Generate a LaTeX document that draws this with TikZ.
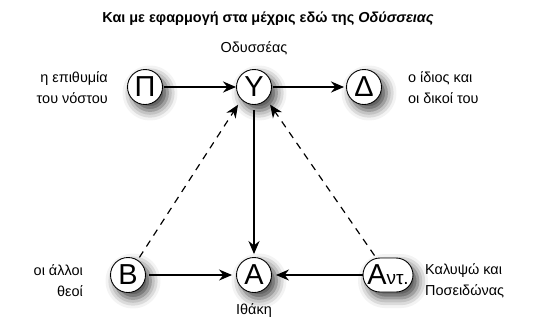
\documentclass[tikz,border=0pt]{standalone}
\usepackage{fontspec}
\setmainfont{Liberation Sans}
\usetikzlibrary{arrows.meta,shadows.blur,shapes.misc}
\begin{document}
\begin{tikzpicture}[x=1bp,y=-1bp,
  shad/.style={blur shadow={shadow xshift=5bp,shadow yshift=-6bp,shadow blur radius=10bp,shadow opacity=75}},
  ball/.style={circle,draw,line width=0.9pt,fill=white,minimum size=35bp,inner sep=0pt,
    font=\fontsize{29}{29}\selectfont,shad},
  pill/.style={rounded rectangle,draw,line width=0.9pt,fill=white,minimum width=51bp,minimum height=34bp,inner sep=0.5bp,
    font=\fontsize{29}{29}\selectfont,shad},
  lab/.style={font=\fontsize{14.5}{21}\selectfont,inner sep=0pt},
  tip/.style={-{Stealth[length=13bp,width=11bp]}},
  thickarrow/.style={tip,line width=2.1pt},
  thinarrow/.style={tip,line width=1.5pt},
  dasharrow/.style={tip,line width=1.2pt,dash pattern=on 7bp off 6bp}]
\useasboundingbox (0,0) rectangle (536,324);
\node[font=\bfseries\fontsize{14.5}{18}\selectfont] (title) at (268,19) {Και με εφαρμογή στα μέχρις εδώ της \textit{Οδύσσειας}};
\node[ball] (P) at (145,87) {Π};
\node[ball] (Y) at (254,87) {Υ};
\node[ball] (D) at (364,87) {Δ};
\node[ball] (B) at (128,275) {Β};
\node[ball] (A) at (254,275) {Α};
\node[pill] (N) at (388,275) {Α\fontsize{19}{19}\selectfont ντ.};
\node[lab] (Ylab) at (254,48) {Οδυσσέας};
\node[lab,align=right,anchor=east] (Plab) at (108,88) {η επιθυμία\\του νόστου};
\node[lab,align=left,anchor=west] (Dlab) at (408,88) {ο ίδιος και\\οι δικοί του};
\node[lab,align=right,anchor=east] (Blab) at (83,281) {οι άλλοι\\θεοί};
\node[lab,align=left,anchor=west] (Nlab) at (425,281) {Καλυψώ και\\Ποσειδώνας};
\node[lab] (Alab) at (254,311) {Ιθάκη};
\draw[thickarrow,shorten <=1bp] (P) -- (Y);
\draw[thickarrow,shorten <=1bp,shorten >=2bp] (Y) -- (D);
\draw[thickarrow,shorten <=5bp,shorten >=3bp] (Y) -- (A);
\draw[thinarrow,shorten <=3bp,shorten >=4bp] (B) -- (A);
\draw[thinarrow,shorten >=4bp] (N) -- (A);
\draw[dasharrow,shorten <=3bp,shorten >=6bp] (B) -- (Y.225);
\draw[dasharrow,shorten <=3bp,shorten >=6bp] (N) -- (Y.315);
\end{tikzpicture}
\end{document}
